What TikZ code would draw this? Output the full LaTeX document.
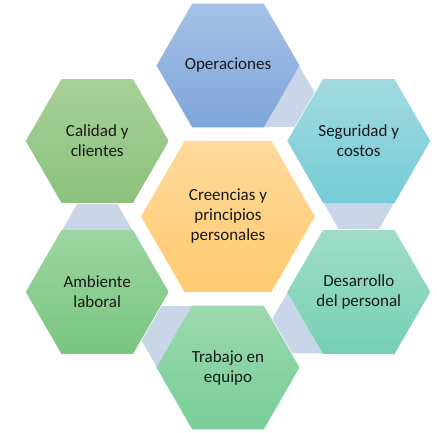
\documentclass[tikz,border=0pt]{standalone}
\usepackage{fontspec}
\setmainfont{Carlito}
\usetikzlibrary{shapes.geometric,calc,backgrounds}

\definecolor{conncol}{RGB}{201,214,232}
\definecolor{opA}{RGB}{165,193,230}
\definecolor{opB}{RGB}{126,166,218}
\definecolor{segA}{RGB}{163,218,224}
\definecolor{segB}{RGB}{118,203,214}
\definecolor{desA}{RGB}{160,221,200}
\definecolor{desB}{RGB}{116,208,180}
\definecolor{traA}{RGB}{156,217,174}
\definecolor{traB}{RGB}{120,205,152}
\definecolor{ambA}{RGB}{156,213,160}
\definecolor{ambB}{RGB}{121,198,128}
\definecolor{calA}{RGB}{168,208,152}
\definecolor{calB}{RGB}{139,194,125}
\definecolor{creA}{RGB}{255,218,155}
\definecolor{creB}{RGB}{255,202,112}

\tikzset{
	hexa/.style={regular polygon, regular polygon sides=6,
		minimum size=143pt, inner sep=0pt, align=center,
		font=\fontsize{17}{20}\selectfont, text=black!90},
	hexbig/.style={hexa, minimum size=174pt},
	conn/.style={regular polygon, regular polygon sides=6,
		minimum size=80pt, inner sep=0pt, fill=conncol},
}

\begin{document}
\begin{tikzpicture}
	\useasboundingbox (-228pt,-216.5pt) rectangle (209pt,216.5pt);
	
	\node[hexbig, top color=creA, bottom color=creB](cre) at (0,0){Creencias y\\principios\\personales};
	
	\node[hexa, top color=opA, bottom color=opB](op) at (90:151pt){Operaciones};
	\node[hexa, top color=segA, bottom color=segB](seg) at (30:151pt){Seguridad y\\costos};
	\node[hexa, top color=desA, bottom color=desB](des) at (-30:151pt){Desarrollo\\del personal};
	\node[hexa, top color=traA, bottom color=traB](tra) at (-90:151pt){Trabajo en\\equipo};
	\node[hexa, top color=ambA, bottom color=ambB](amb) at (-150:151pt){Ambiente\\laboral};
	\node[hexa, top color=calA, bottom color=calB](cal) at (150:151pt){Calidad y\\clientes};
	
	% connectors behind the ring
	\begin{scope}[on background layer]
		\node[conn](op_seg) at ($(op)!0.355!(seg)$){};
		\node[conn](seg_des) at ($(seg)!0.355!(des)$){};
		\node[conn](des_tra) at ($(des)!0.355!(tra)$){};
		\node[conn](tra_amb) at ($(tra)!0.355!(amb)$){};
		\node[conn](amb_cal) at ($(amb)!0.355!(cal)$){};
	\end{scope}
\end{tikzpicture}
\end{document}
